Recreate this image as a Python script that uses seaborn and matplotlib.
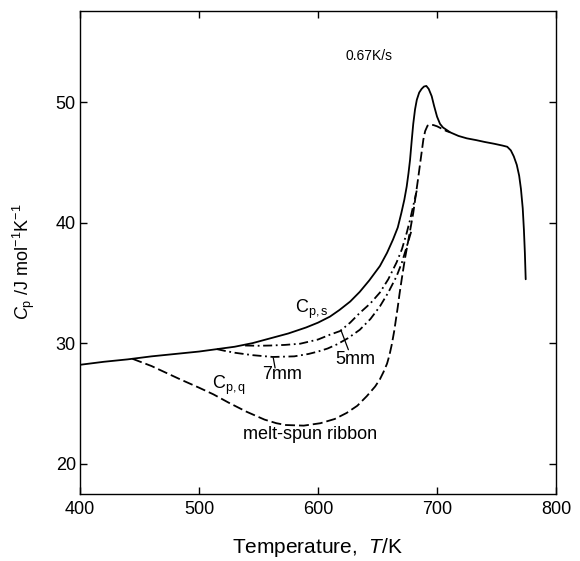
import numpy as np
import pandas as pd
import matplotlib
matplotlib.use("Agg")
import matplotlib.pyplot as plt
import seaborn as sns

# ---- data ----
T_s = [400, 420, 440, 460, 480, 500, 515, 530, 545, 560, 575, 590, 600, 610,
       618, 627, 635, 643, 652, 658, 663, 667, 670, 672.5, 674.5, 676, 677.3,
       678.7, 680, 681.5, 683, 685, 687, 689, 691, 693, 695.5, 697.5, 700,
       702.5, 705, 708, 711, 718, 725, 733, 740, 748, 755, 759, 762, 764.5,
       767, 769, 770.5, 772, 773, 773.8, 774.5]
Cp_s = [28.2, 28.45, 28.65, 28.9, 29.1, 29.3, 29.5, 29.7, 30.0, 30.4, 30.8,
        31.3, 31.7, 32.2, 32.75, 33.45, 34.25, 35.2, 36.4, 37.5, 38.6, 39.6, 40.8,
        41.9, 43.0, 44.1, 45.2, 46.8, 48.2, 49.4, 50.2, 50.8, 51.1, 51.3, 51.35,
        51.1, 50.5, 49.7, 48.8, 48.2, 47.9, 47.7, 47.5, 47.2, 47.0, 46.85, 46.7,
        46.55, 46.4, 46.3, 46.0, 45.5, 44.8, 43.9, 42.8, 41.2, 39.4, 37.5, 35.3]

T_q = [444, 452, 460, 472, 484, 500, 512, 525, 540, 555, 565, 573, 588, 602,
       614, 624, 633, 641, 648, 652, 655, 658, 660, 662, 664, 665.5, 667,
       668.5, 670.3, 673, 676, 678, 680, 682, 684, 685.5, 687, 688.5, 690, 692,
       694, 697, 700, 704, 708, 711]
Cp_q = [28.7, 28.4, 28.1, 27.55, 27.0, 26.3, 25.75, 25.05, 24.3, 23.65, 23.35,
        23.2, 23.15, 23.35, 23.7, 24.2, 24.8, 25.6, 26.4, 27.0, 27.6, 28.3, 29.0,
        29.9, 31.0, 32.0, 33.0, 34.1, 35.3, 37.0, 38.6, 39.7, 40.8, 42.2, 43.6,
        44.7, 45.8, 46.9, 47.6, 48.05, 48.15, 48.1, 48.0, 47.8, 47.6, 47.5]

T_5 = [538.7, 550, 560, 572, 585, 600, 610, 618.5, 627, 635, 644, 652, 659, 666,
       670.5, 674.5, 677.5, 680, 683.5]
Cp_5 = [29.8, 29.78, 29.8, 29.85, 29.95, 30.3, 30.7, 31.0, 31.7, 32.5, 33.3,
        34.2, 35.3, 36.7, 37.8, 39.15, 40.3, 41.4, 42.9]

T_7 = [515, 522, 530, 545, 562, 580, 592, 600, 608, 616, 625, 635, 644, 652,
       659, 666, 670.5, 674.5, 678.7]
Cp_7 = [29.5, 29.35, 29.2, 29.0, 28.85, 28.9, 29.1, 29.3, 29.55, 29.9, 30.4,
        31.1, 32.0, 33.05, 34.2, 35.55, 36.7, 38.0, 39.4]

x_ticks = [400, 500, 600, 700, 800]
y_ticks = [20, 30, 40, 50]

# ---- style ----
sns.set_theme(style="ticks")
plt.rcParams["font.family"] = ["Liberation Sans", "DejaVu Sans"]
plt.rcParams["mathtext.fontset"] = "custom"
plt.rcParams["mathtext.rm"] = "Liberation Sans"
plt.rcParams["mathtext.it"] = "Liberation Sans:italic"
plt.rcParams["mathtext.bf"] = "Liberation Sans:bold"
for key in ["text.color", "axes.labelcolor", "xtick.color", "ytick.color",
            "axes.edgecolor"]:
    plt.rcParams[key] = "black"

fig = plt.figure(figsize=(5.8, 5.61), dpi=100)
ax = fig.add_axes([0.138, 0.12, 0.8207, 0.861])

lw = 1.3
df_s = pd.DataFrame({"T": T_s, "Cp": Cp_s})
df_q = pd.DataFrame({"T": T_q, "Cp": Cp_q})
df_5 = pd.DataFrame({"T": T_5, "Cp": Cp_5})
df_7 = pd.DataFrame({"T": T_7, "Cp": Cp_7})

sns.lineplot(data=df_s, x="T", y="Cp", ax=ax, color="black", lw=lw,
             estimator=None, sort=False)
sns.lineplot(data=df_q, x="T", y="Cp", ax=ax, color="black", lw=lw,
             estimator=None, sort=False, linestyle=(0, (5.5, 2.2)))
sns.lineplot(data=df_5, x="T", y="Cp", ax=ax, color="black", lw=lw,
             estimator=None, sort=False, linestyle=(0, (5, 2, 1, 2)))
sns.lineplot(data=df_7, x="T", y="Cp", ax=ax, color="black", lw=lw,
             estimator=None, sort=False, linestyle=(0, (5, 2, 1, 2)))

ax.set_xlim(400, 800)
ax.set_ylim(17.5, 57.6)
ax.set_xticks(x_ticks)
ax.set_yticks(y_ticks)
ax.tick_params(direction="in", top=True, right=True, length=5, width=1,
               labelsize=13, color="black", labelcolor="black")
ax.tick_params(axis="x", pad=5.5)
ax.tick_params(axis="y", pad=3)
for sp in ax.spines.values():
    sp.set_linewidth(1.0)
    sp.set_color("black")

ax.set_xlabel("Temperature,  $T$/K", fontsize=15, labelpad=13)
ax.set_ylabel(r"$C_\mathrm{p}$ /J mol$^{-1}$K$^{-1}$", fontsize=13)
ax.yaxis.set_label_coords(-0.09, 0.48)

# annotations
ax.text(643, 53.8, "0.67K/s", fontsize=10, ha="center", va="center")
ax.text(581, 32.5, r"C$_\mathrm{p,s}$", fontsize=13, ha="left", va="baseline")
ax.text(510.6, 26.2, r"C$_\mathrm{p,q}$", fontsize=13, ha="left", va="baseline")
ax.text(593, 22.4, "melt-spun ribbon", fontsize=13, ha="center", va="center")
ax.text(631, 28.65, "5mm", fontsize=13, ha="center", va="center")
ax.text(569.5, 27.4, "7mm", fontsize=13, ha="center", va="center")
ax.annotate("", xy=(619.3, 31.06), xytext=(625.5, 29.45),
            arrowprops=dict(arrowstyle="-", lw=0.9, color="black",
                            shrinkA=0, shrinkB=0))
ax.annotate("", xy=(562.4, 28.77), xytext=(563.9, 27.94),
            arrowprops=dict(arrowstyle="-", lw=0.9, color="black",
                            shrinkA=0, shrinkB=0))

fig.savefig("out.png", dpi=100, facecolor="white")
